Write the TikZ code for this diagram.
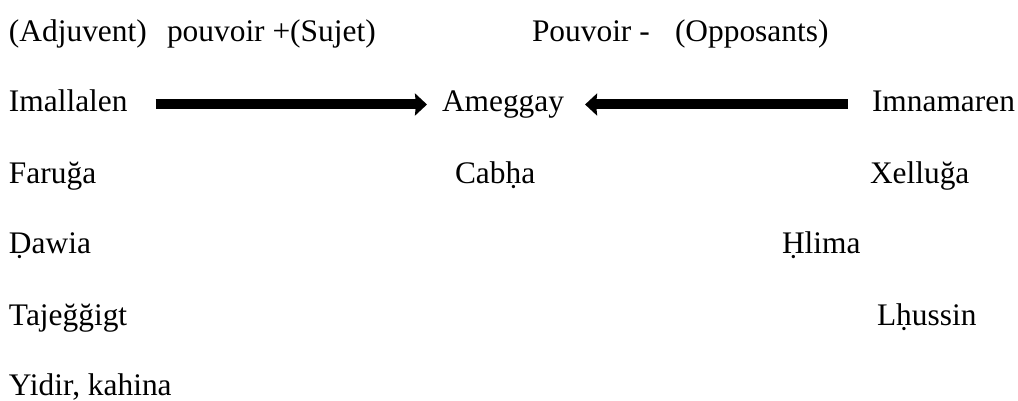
\documentclass[tikz,border=0pt]{standalone}
\usepackage{fontspec}
\setmainfont{Liberation Serif}
\usetikzlibrary{arrows.meta}
\begin{document}
\begin{tikzpicture}[x=1pt,y=-1pt,
  lbl/.style={anchor=base west,inner sep=0pt,outer sep=0pt,font=\fontsize{31.4}{36}\selectfont},
  bigarrow/.style={line width=10pt,-{Stealth[length=12pt,width=22pt,inset=1pt]}}]
\useasboundingbox (0,0) rectangle (1018,401);
\node[lbl] (adj) at (9,42) {(Adjuvent)};
\node[lbl] (pouvp) at (167,42) {pouvoir +(Sujet)};
\node[lbl] (pouvm) at (532,42) {Pouvoir -};
\node[lbl] (opp) at (675,42) {(Opposants)};
\node[lbl] (imal) at (9,112) {Imallalen};
\node[lbl] (ameg) at (442,112) {Ameggay};
\node[lbl] (imna) at (872,112) {Imnamaren};
\node[lbl] (faru) at (9,183) {Faruğa};
\node[lbl] (cabha) at (455,183) {Cabḥa};
\node[lbl] (xell) at (870,183) {Xelluğa};
\node[lbl] (dawia) at (9,253) {Ḍawia};
\node[lbl] (hlima) at (782,253) {Ḥlima};
\node[lbl] (taje) at (9,325) {Tajeğğigt};
\node[lbl] (lhus) at (877,325) {Lḥussin};
\node[lbl] (yidir) at (9,395) {Yidir, kahina};
\draw[bigarrow,shorten <=28pt,shorten >=15pt] ([yshift=7.5pt]imal.base east) -- ([yshift=7.5pt]ameg.base west);
\draw[bigarrow,shorten <=24pt,shorten >=21pt] ([yshift=7.5pt]imna.base west) -- ([yshift=7.5pt]ameg.base east);
\end{tikzpicture}
\end{document}
